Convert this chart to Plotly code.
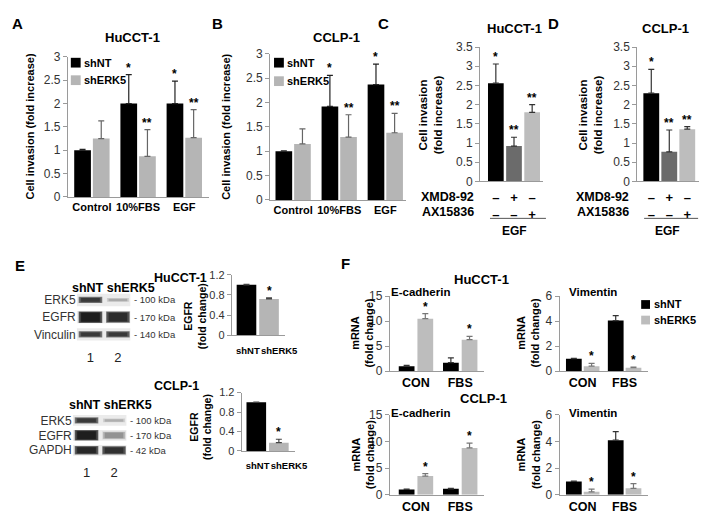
import plotly.graph_objects as go

W, H = 709, 520
FONT = "Liberation Sans, Arial, sans-serif"
AXC = "#9a9a9a"
BLACK = "#000000"
GREY = "#b5b5b5"
DGREY = "#6b6b6b"
LGREY = "#bdbdbd"

# ---------------- data ----------------
# A  HuCCT-1 invasion
A_groups = ["Control", "10%FBS", "EGF"]
A_shNT = [1.0, 2.0, 2.0]
A_shNT_err = [0.02, 0.62, 0.48]
A_shNT_sig = ["", "*", "*"]
A_shERK5 = [1.25, 0.87, 1.27]
A_shERK5_err = [0.38, 0.57, 0.60]
A_shERK5_sig = ["", "**", "**"]
# B  CCLP-1 invasion
B_groups = ["Control", "10%FBS", "EGF"]
B_shNT = [1.0, 1.92, 2.37]
B_shNT_err = [0.01, 0.64, 0.42]
B_shNT_sig = ["", "*", "*"]
B_shERK5 = [1.15, 1.29, 1.38]
B_shERK5_err = [0.31, 0.46, 0.40]
B_shERK5_sig = ["", "**", "**"]
# C / D  inhibitors + EGF
XMD8_92 = ["–", "+", "–"]
AX15836 = ["–", "–", "+"]
C_vals = [2.56, 0.92, 1.80]
C_err = [0.50, 0.23, 0.20]
C_sig = ["*", "**", "**"]
D_vals = [2.30, 0.77, 1.36]
D_err = [0.62, 0.57, 0.07]
D_sig = ["*", "**", "**"]
# E  EGFR fold change
E_groups = ["shNT", "shERK5"]
E1_vals = [1.0, 0.72]
E1_err = [0.01, 0.02]
E1_sig = ["", "*"]
E2_vals = [1.0, 0.17]
E2_err = [0.005, 0.07]
E2_sig = ["", "*"]
# E  western blots (band darkness 0..1)
blot_lanes = ["1", "2"]
blot_header = ["shNT", "shERK5"]
blot1_rows = ["ERK5", "EGFR", "Vinculin"]
blot1_kda = ["- 100 kDa", "- 170 kDa", "- 140 kDa"]
blot1_lane1 = [0.85, 1.0, 0.85]
blot1_lane2 = [0.22, 0.92, 0.85]
blot2_rows = ["ERK5", "EGFR", "GAPDH"]
blot2_kda = ["- 100 kDa", "- 170 kDa", "- 42 kDa"]
blot2_lane1 = [0.85, 1.0, 0.95]
blot2_lane2 = [0.20, 0.35, 0.90]
# F  mRNA fold change
F_groups = ["CON", "FBS"]
F_ecad1_shNT = [1.0, 1.7]
F_ecad1_shNT_err = [0.15, 0.95]
F_ecad1_shERK5 = [10.5, 6.3]
F_ecad1_shERK5_err = [1.0, 0.65]
F_vim1_shNT = [1.0, 4.05]
F_vim1_shNT_err = [0.03, 0.40]
F_vim1_shERK5 = [0.40, 0.28]
F_vim1_shERK5_err = [0.22, 0.05]
F_ecad2_shNT = [1.0, 1.1]
F_ecad2_shNT_err = [0.05, 0.12]
F_ecad2_shERK5 = [3.5, 8.8]
F_ecad2_shERK5_err = [0.45, 0.90]
F_vim2_shNT = [1.0, 4.1]
F_vim2_shNT_err = [0.02, 0.65]
F_vim2_shERK5 = [0.22, 0.48]
F_vim2_shERK5_err = [0.20, 0.35]
F_sig = ["*", "*"]
F_nosig = ["", ""]

# ---------------- helpers ----------------
fig = go.Figure()
annotations = []
shapes = []
axes = {}


def ref(n):
    return ("x" if n == 1 else f"x{n}"), ("y" if n == 1 else f"y{n}")


def axis_pair(n, x0, x1, ytop, ybot, xrange, yrange, xtickvals, xticktext,
              xfont, yfont, ydtick=None, ytickvals=None, yticktext=None,
              xstandoff=None):
    key_ = "" if n == 1 else str(n)
    xa = dict(
        domain=[x0 / W, x1 / W], range=xrange, anchor=f"y{n}" if n > 1 else "y",
        showline=True, linecolor=AXC, linewidth=1, ticks="", showgrid=False,
        zeroline=False, tickmode="array", tickvals=xtickvals, ticktext=xticktext,
        tickfont=xfont, tickangle=0, fixedrange=True)
    if xstandoff is not None:
        xa["ticklabelstandoff"] = xstandoff
    axes["xaxis" + key_] = xa
    ya = dict(
        domain=[1 - ybot / H, 1 - ytop / H], range=yrange,
        anchor=f"x{n}" if n > 1 else "x", showline=True, linecolor=AXC,
        linewidth=1, ticks="outside", ticklen=4, tickcolor=AXC, tickwidth=1,
        showgrid=False, zeroline=False, tickfont=yfont, fixedrange=True)
    if ytickvals is not None:
        ya.update(tickmode="array", tickvals=ytickvals, ticktext=yticktext)
    else:
        ya.update(tick0=0, dtick=ydtick)
    axes["yaxis" + key_] = ya


def bars(n, vals, errs, colors, ecolor, offset, width, sig, star=12):
    xr, yr = ref(n)
    xs = list(range(len(vals)))
    fig.add_trace(go.Bar(
        x=xs, y=vals, width=[width] * len(xs), offset=[offset] * len(xs),
        marker=dict(color=colors, line=dict(width=0)),
        error_y=dict(type="data", array=errs, arrayminus=[0] * len(errs),
                     symmetric=False, color=ecolor, thickness=1.2, width=3),
        xaxis=xr, yaxis=yr, showlegend=False, hoverinfo="skip"))
    for i, (v, e, s) in enumerate(zip(vals, errs, sig)):
        if s:
            annotations.append(dict(
                x=i + offset + width / 2, y=v + e, xref=xr, yref=yr, text=s,
                showarrow=False, yanchor="bottom", xanchor="center", yshift=-2,
                font=dict(size=star, family=FONT, color="#000", weight="bold")))


def text(x, y, s, size=12, bold=True, anchor="center", color="#000", angle=0):
    annotations.append(dict(
        x=x / W, y=1 - y / H, xref="paper", yref="paper", text=s,
        showarrow=False, xanchor=anchor, yanchor="middle", textangle=angle,
        font=dict(size=size, family=FONT, color=color,
                  weight="bold" if bold else "normal")))


def key(x0, y0, x1, y1, color):
    shapes.append(dict(type="rect", xref="paper", yref="paper",
                       x0=x0 / W, x1=x1 / W, y0=1 - y1 / H, y1=1 - y0 / H,
                       fillcolor=color, line=dict(width=0)))


def hline(x0, x1, y, color="#555"):
    shapes.append(dict(type="line", xref="paper", yref="paper",
                       x0=x0 / W, x1=x1 / W, y0=1 - y / H, y1=1 - y / H,
                       line=dict(color=color, width=1)))


tickf = dict(size=12, family=FONT, color="#333")
xlabf = dict(size=11, family=FONT, color="#000", weight="bold")

# ---------------- A ----------------
axis_pair(1, 61, 205, 43, 187, [-0.52, 2.54], [0, 3], [0, 1, 2], A_groups,
          xlabf, tickf, ydtick=0.5)
bars(1, A_shNT, A_shNT_err, BLACK, "#222", -18 / 47, 17 / 47, A_shNT_sig)
bars(1, A_shERK5, A_shERK5_err, GREY, "#666", 1 / 47, 17 / 47, A_shERK5_sig)
text(10, 9, "A", 15)
text(127, 23, "HuCCT-1", 13)
text(22, 115, "Cell invasion (fold increase)", 11, angle=-90)
key(64, 44, 74, 54, BLACK)
key(64, 62, 74, 72, GREY)
text(75.5, 49, "shNT", 11, anchor="left")
text(75.5, 67, "shERK5", 11, anchor="left")

# ---------------- B ----------------
axis_pair(2, 267, 405, 40, 190, [-0.5, 2.44], [0, 3], [0, 1, 2], B_groups,
          xlabf, tickf, ydtick=0.5)
bars(2, B_shNT, B_shNT_err, BLACK, "#222", -18 / 47, 17 / 47, B_shNT_sig)
bars(2, B_shERK5, B_shERK5_err, GREY, "#666", 1 / 47, 17 / 47, B_shERK5_sig)
text(213, 9, "B", 15)
text(335, 23, "CCLP-1", 13)
text(222, 115, "Cell invasion (fold increase)", 11, angle=-90)
key(271, 44, 281, 54, BLACK)
key(271, 63, 281, 73, GREY)
text(282.5, 49, "shNT", 11, anchor="left")
text(282.5, 68, "shERK5", 11, anchor="left")

# ---------------- C / D ----------------
pm_text = [f"{a}<br>{b}" for a, b in zip(XMD8_92, AX15836)]
pmf = dict(size=13, family=FONT, color="#000", weight="bold")
cd_cols = [BLACK, DGREY, LGREY]
axis_pair(3, 481, 545, 33, 171, [-0.86, 2.6], [0, 3.5], [0, 1, 2], pm_text,
          pmf, tickf, ydtick=0.5, xstandoff=4)
bars(3, C_vals, C_err, cd_cols, "#333", -0.43, 0.865, C_sig)
axis_pair(4, 641, 703.5, 33, 171, [-0.78, 2.63], [0, 3.5], [0, 1, 2], pm_text,
          pmf, tickf, ydtick=0.5, xstandoff=4)
bars(4, D_vals, D_err, cd_cols, "#333", -0.44, 0.88, D_sig)
text(383, 9, "C", 15)
text(556, 9, "D", 15)
text(516, 14, "HuCCT-1", 13)
text(670, 14, "CCLP-1", 13)
text(430, 103, "Cell invasion<br>(fold increase)", 11.5, angle=-90)
text(593, 103, "Cell invasion<br>(fold increase)", 11.5, angle=-90)
for xr_ in (477, 635):
    text(xr_, 187, "XMD8-92", 12.5, anchor="right")
    text(xr_, 202, "AX15836", 12.5, anchor="right")
hline(491, 548, 209)
hline(648, 703, 209)
text(516, 222, "EGF", 12)
text(672, 222, "EGF", 12)

# ---------------- E ----------------
text(12, 257, "E", 15)
text(176, 270, "HuCCT-1", 12.5)
text(172, 381, "CCLP-1", 12.5)
ef_t = dict(size=11, family=FONT, color="#333")
ef_x = dict(size=9.5, family=FONT, color="#000", weight="bold")
e_ticks = [0, 0.4, 0.8, 1.2]
e_ticktext = ["0", "0.4", "0.8", "1.2"]
e_lab_pos = [0.06, 1.45]
axis_pair(5, 228, 282, 267, 329, [-0.65, 1.7], [0, 1.2], e_lab_pos, E_groups,
          ef_x, ef_t, ytickvals=e_ticks, yticktext=e_ticktext, xstandoff=6)
bars(5, E1_vals, E1_err, [BLACK, GREY], "#444", -0.435, 0.87, E1_sig)
axis_pair(6, 238, 292, 388, 448, [-0.65, 1.7], [0, 1.2], e_lab_pos, E_groups,
          ef_x, ef_t, ytickvals=e_ticks, yticktext=e_ticktext, xstandoff=6)
bars(6, E2_vals, E2_err, [BLACK, GREY], "#444", -0.435, 0.87, E2_sig)
text(190, 310, "EGFR<br>(fold change)", 10.5, angle=-90)
text(196, 423, "EGFR<br>(fold change)", 10.5, angle=-90)


def grey(d, extra=0):
    lv = int(round(30 + (1 - d) * 180 + extra))
    lv = max(0, min(235, lv))
    return f"rgb({lv},{lv},{lv})"


def blot(n, x0, x1, ytop, ybot, rows, kda, lane1, lane2, thick, head_x, head_y):
    key_ = str(n)
    axes["xaxis" + key_] = dict(
        domain=[x0 / W, x1 / W], range=[0, 2], anchor=f"y{n}", showline=False,
        showgrid=False, zeroline=False, ticks="", tickmode="array",
        tickvals=[0.5, 1.5], ticktext=blot_lanes, fixedrange=True,
        ticklabelstandoff=5,
        tickfont=dict(size=13, family=FONT, color="#222"))
    axes["yaxis" + key_] = dict(
        domain=[1 - ybot / H, 1 - ytop / H], range=[len(rows) - 0.5, -0.5],
        anchor=f"x{n}", showline=False, showgrid=False, zeroline=False,
        ticks="", tickmode="array", tickvals=list(range(len(rows))),
        ticktext=rows, fixedrange=True,
        tickfont=dict(size=12, family=FONT, color="#333"))
    xr, yr = f"x{n}", f"y{n}"
    for r in range(len(rows)):
        shapes.append(dict(type="rect", xref=xr, yref=yr, x0=0.0, x1=1.95,
                           y0=r - 0.36, y1=r + 0.36, fillcolor="#ebebeb",
                           line=dict(width=0), layer="below"))
        for lane, d in ((0, lane1[r]), (1, lane2[r])):
            w = thick[r] * (0.55 + 0.45 * d)
            cx = lane + 0.5
            for half, grow, extra in ((0.43, 2.5, 70), (0.40, 1.2, 35),
                                      (0.34, 0.0, 0)):
                fig.add_trace(go.Scatter(
                    x=[cx - half, cx + half], y=[r, r], mode="lines",
                    line=dict(color=grey(d, extra), width=w + grow),
                    xaxis=xr, yaxis=yr, showlegend=False, hoverinfo="skip"))
        annotations.append(dict(
            x=1.01, y=r, xref=f"x{n} domain", yref=yr, text=kda[r],
            showarrow=False, xanchor="left", yanchor="middle",
            font=dict(size=9.5, family=FONT, color="#333")))
    text(head_x, head_y, " ".join(blot_header), 12.5)


blot(11, 70, 126, 284, 337, blot1_rows, blot1_kda, blot1_lane1, blot1_lane2,
     [4, 9, 4], 107, 281)
blot(12, 66, 122, 409, 455, blot2_rows, blot2_kda, blot2_lane1, blot2_lane2,
     [4, 8, 6], 104, 401)

# ---------------- F ----------------
text(344, 255, "F", 15)
text(482, 272, "HuCCT-1", 13)
text(484, 394, "CCLP-1", 13)
ff_t = dict(size=12, family=FONT, color="#333")
ff_x = dict(size=12.5, family=FONT, color="#000", weight="bold")
# top row
axis_pair(7, 389, 485, 289, 366, [-0.59, 1.54], [0, 15], [0, 1], F_groups,
          ff_x, ff_t, ydtick=5)
bars(7, F_ecad1_shNT, F_ecad1_shNT_err, BLACK, "#333", -0.389, 0.356, F_nosig)
bars(7, F_ecad1_shERK5, F_ecad1_shERK5_err, LGREY, "#777", 0.033, 0.356, F_sig)
axis_pair(8, 562, 652, 289, 366, [-0.55, 1.56], [0, 6], [0, 1], F_groups,
          ff_x, ff_t, ydtick=2)
bars(8, F_vim1_shNT, F_vim1_shNT_err, BLACK, "#333", -0.4, 0.376, F_nosig)
bars(8, F_vim1_shERK5, F_vim1_shERK5_err, LGREY, "#777", 0.024, 0.376, F_sig)
# bottom row
axis_pair(9, 389, 485, 411, 493, [-0.59, 1.54], [0, 15], [0, 1], F_groups,
          ff_x, ff_t, ydtick=5)
bars(9, F_ecad2_shNT, F_ecad2_shNT_err, BLACK, "#333", -0.389, 0.356, F_nosig)
bars(9, F_ecad2_shERK5, F_ecad2_shERK5_err, LGREY, "#777", 0.033, 0.356, F_sig)
axis_pair(10, 562, 652, 411, 493, [-0.55, 1.56], [0, 6], [0, 1], F_groups,
          ff_x, ff_t, ydtick=2)
bars(10, F_vim2_shNT, F_vim2_shNT_err, BLACK, "#333", -0.4, 0.376, F_nosig)
bars(10, F_vim2_shERK5, F_vim2_shERK5_err, LGREY, "#777", 0.024, 0.376, F_sig)

for yy in (285, 409):
    text(420, yy, "E-cadherin", 11.5)
    text(596, yy, "Vimentin", 11.5)
for cy in (327, 452):
    text(361, cy, "mRNA<br>(fold change)", 11, angle=-90)
    text(530, cy, "mRNA<br>(fold change)", 11, angle=-90)
key(645, 293, 654, 302, BLACK)
key(645, 309, 654, 318, LGREY)
text(656, 297.5, "shNT", 11, anchor="left")
text(656, 313.5, "shERK5", 11, anchor="left")

fig.update_layout(
    width=W, height=H, margin=dict(l=0, r=0, t=0, b=0),
    paper_bgcolor="white", plot_bgcolor="rgba(0,0,0,0)",
    showlegend=False, barmode="group",
    font=dict(family=FONT, color="#000"),
    annotations=annotations, shapes=shapes, **axes)

fig.write_html("out.html", config={"displayModeBar": False})
